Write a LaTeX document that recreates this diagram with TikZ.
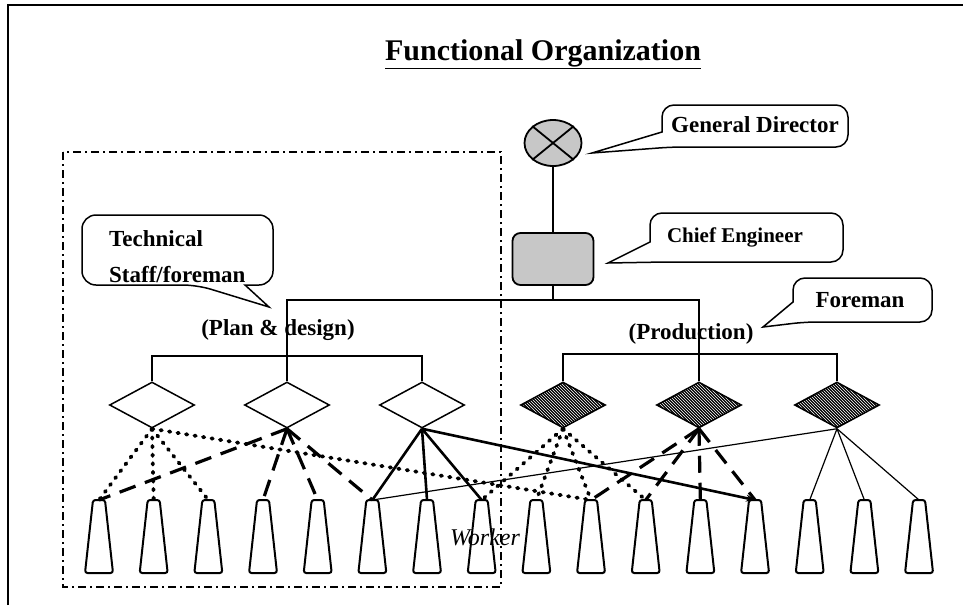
\documentclass[tikz,border=0pt]{standalone}
\usepackage{fontspec}
\setmainfont{Liberation Serif}
\usetikzlibrary{shapes.geometric,patterns,arrows.meta}
\begin{document}
\begin{tikzpicture}[x=1pt,y=-1pt,
 tree/.style={line width=1.8pt},
 wdia/.style={diamond, draw, line width=1.5pt, fill=white, minimum width=85pt, minimum height=46pt, inner sep=0pt},
 hdia/.style={diamond, draw, line width=1.5pt, preaction={fill=black}, pattern=north west lines, pattern color=white, minimum width=85pt, minimum height=46pt, inner sep=0pt},
 wk/.style={draw, line width=2pt, rounded corners=2.5pt, fill=white},
 dotl/.style={line width=3.8pt, line cap=round, dash pattern=on 1.4pt off 7.2pt},
 dashl/.style={line width=3.2pt, dash pattern=on 17pt off 10pt},
 solidl/.style={line width=2.6pt},
 thinl/.style={line width=1.2pt},
 callout/.style={draw, line width=1.5pt, fill=white},
 lbl/.style={font=\fontsize{23}{27}\selectfont\bfseries, inner sep=0pt},
]
\useasboundingbox (0,0) rectangle (963,605);
% outer frame
\draw[line width=1.4pt] (8,605) -- (8,5) -- (963,5);
% title
\node[font=\fontsize{30}{34}\selectfont\bfseries, anchor=base, inner sep=0pt] (title) at (543,60) {\underline{Functional Organization}};
% dash-dot group frame
\draw[line width=2.2pt, dash pattern=on 8pt off 4pt on 2pt off 4pt] (63,152) rectangle (501,587);
% top nodes
\node[ellipse, draw, line width=1.8pt, fill=black!22, minimum width=57pt, minimum height=46pt, inner sep=0pt] (gd) at (553,143) {};
\draw[line width=1.8pt] (gd.north west) -- (gd.south east) (gd.north east) -- (gd.south west);
\node[draw, line width=1.8pt, rounded corners=8pt, fill=black!22, minimum width=81pt, minimum height=52pt, inner sep=0pt] (ce) at (553,259) {};
% diamonds
\node[wdia] (d1) at (152,405) {};
\node[wdia] (d2) at (287,405) {};
\node[wdia] (d3) at (422,405) {};
\node[hdia] (d4) at (563,405) {};
\node[hdia] (d5) at (699,405) {};
\node[hdia] (d6) at (837,405) {};
% workers
\foreach \i in {1,...,16}{
  \pgfmathsetmacro\xx{99+54.67*(\i-1)}
  \draw[wk] (\xx-14,573) -- (\xx-6,500) -- (\xx+6,500) -- (\xx+14,573) -- cycle;
  \coordinate (w\i) at (\xx,500);
}
% tree
\coordinate (jt) at (553,300);
\draw[tree] (gd.south) -- (ce.north);
\draw[tree] (ce.south) -- (jt);
\draw[tree] (d2.north) |- (jt) -| (d5.north);
\draw[tree] (d1.north) -- ++(0,-25) -| (d3.north);
\draw[tree] (d4.north) -- ++(0,-27) -| (d6.north);
% connectors
\foreach \w in {1,2,3,10} \draw[dotl] (d1.south) -- (w\w);
\foreach \w in {8,9,10,11} \draw[dotl] (d4.south) -- (w\w);
\foreach \w in {1,4,5,6} \draw[dashl] (d2.south) -- (w\w);
\foreach \w in {10,11,12,13} \draw[dashl] (d5.south) -- (w\w);
\foreach \w in {6,7,8} \draw[solidl] (d3.south) -- (w\w);
\draw[solidl,-{Stealth[length=9pt,width=7pt]}] (d3.south) -- (w13);
\foreach \w in {6,14,15,16} \draw[thinl] (d6.south) -- (w\w);
% group labels
\node[lbl] (pd) at (278,330) {(Plan \& design)};
\node[lbl] (pr) at (691,334) {(Production)};
% callouts
\draw[callout] (662,132) [rounded corners=12pt] -- (662,105) -- (848,105) -- (848,147) -- (672,147) [sharp corners] -- (592,153) -- cycle;
\node[lbl] (tgd) at (755,125) {General Director};
\draw[callout] (650,242) [rounded corners=12pt] -- (650,213) -- (843,213) -- (843,262) -- (665,262) [sharp corners] -- (608,263) -- cycle;
\node[lbl, font=\fontsize{21}{25}\selectfont\bfseries] (tce) at (735,237) {Chief Engineer};
\draw[callout] (793,302) [rounded corners=12pt] -- (793,278) -- (932,278) -- (932,322) -- (805,322) [sharp corners] -- (763,327) -- cycle;
\node[lbl] (tfo) at (860,300) {Foreman};
\draw[callout] (245,285) [rounded corners=14pt] -- (273,285) -- (273,215) -- (82,215) -- (82,285) -- (197,285) [sharp corners] -- (269,307) -- cycle;
\node[lbl, anchor=west] (tts1) at (109,239) {Technical};
\node[lbl, anchor=west] (tts2) at (109,275) {Staff/foreman};
% worker label
\node[font=\fontsize{24}{28}\selectfont\itshape, inner sep=0pt] (wl) at (485,537) {Worker};
\end{tikzpicture}
\end{document}
